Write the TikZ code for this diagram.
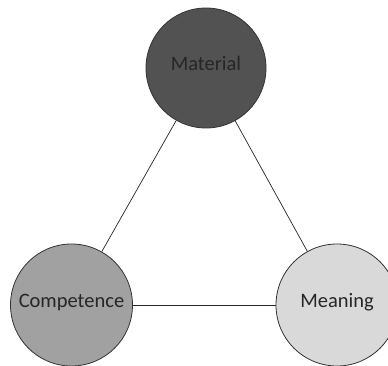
\documentclass[tikz,border=0pt]{standalone}
\usepackage{fontspec}
\setmainfont{Carlito}
\begin{document}
\begin{tikzpicture}[x=1pt,y=-1pt,
  concept/.style={circle, draw=black!80, line width=0.8pt, minimum size=#1, inner sep=0pt,
    font=\fontsize{20.5}{22}\selectfont, text=black!85, text height=14pt, text depth=8.8pt},
  link/.style={draw=black!85, line width=0.7pt}]
\useasboundingbox (0,0) rectangle (388,366);
\clip (0,0) rectangle (388,366);
\fill[white] (0,0) rectangle (388,366);
\node[concept=120pt, fill=black!68] (mat) at (206,68) {Material};
\node[concept=122pt, fill=black!37] (comp) at (71.5,305) {Competence};
\node[concept=122pt, fill=black!15] (mean) at (337,305) {Meaning};
\draw[link] (mat) -- (comp);
\draw[link] (mat) -- (mean);
\draw[link] (comp) -- (mean);
\end{tikzpicture}
\end{document}
